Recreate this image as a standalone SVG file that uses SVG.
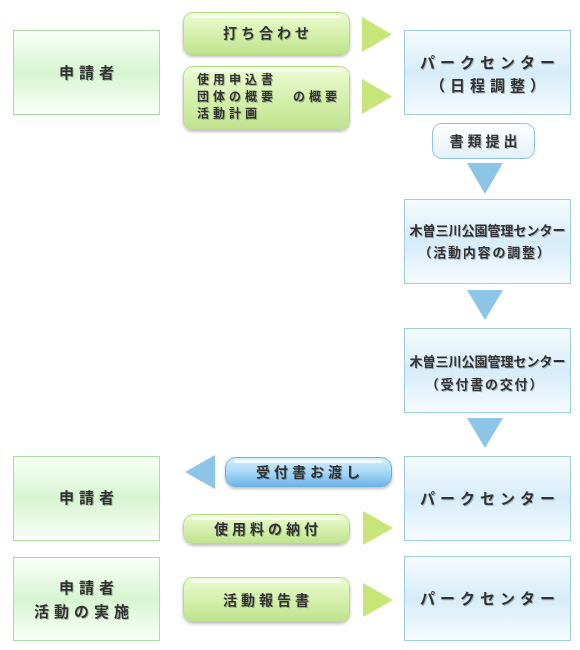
<svg xmlns="http://www.w3.org/2000/svg" width="580" height="650" viewBox="0 0 580 650">
<defs>
<linearGradient id="gBox" x1="0" y1="0" x2="0" y2="1">
<stop offset="0" stop-color="#fbfff9"/><stop offset="0.5" stop-color="#d6f5d0"/><stop offset="1" stop-color="#fbfff9"/>
</linearGradient>
<linearGradient id="bBox" x1="0" y1="0" x2="0" y2="1">
<stop offset="0" stop-color="#f6fbfe"/><stop offset="0.5" stop-color="#d6ecf8"/><stop offset="1" stop-color="#f6fbfe"/>
</linearGradient>
<linearGradient id="gPill" x1="0" y1="0" x2="0" y2="1">
<stop offset="0" stop-color="#eefad8"/><stop offset="0.15" stop-color="#e6f7c8"/><stop offset="0.6" stop-color="#d0eea6"/><stop offset="1" stop-color="#bfe28e"/>
</linearGradient>
<linearGradient id="bPill" x1="0" y1="0" x2="0" y2="1">
<stop offset="0" stop-color="#d8f0fc"/><stop offset="0.5" stop-color="#a8d8f6"/><stop offset="1" stop-color="#6cb4e8"/>
</linearGradient>
<linearGradient id="wPill" x1="0" y1="0" x2="0" y2="1">
<stop offset="0" stop-color="#ffffff"/><stop offset="1" stop-color="#e4f0fa"/>
</linearGradient>
<filter id="sh" x="-10%" y="-20%" width="120%" height="150%">
<feDropShadow dx="0" dy="2" stdDeviation="1.5" flood-color="#000" flood-opacity="0.25"/>
</filter>
<filter id="ts" x="-5%" y="-20%" width="110%" height="150%">
<feDropShadow dx="1" dy="1" stdDeviation="0.6" flood-color="#000" flood-opacity="0.25"/>
</filter>
</defs>
<style>
.gbox{fill:url(#gBox);stroke:#a9dea0;stroke-width:1}
.bbox{fill:url(#bBox);stroke:#9fcde0;stroke-width:1}
.gpill{fill:url(#gPill);stroke:#b4da84;stroke-width:1;filter:url(#sh)}
.bpill{fill:url(#bPill);stroke:#6aaede;stroke-width:1;filter:url(#sh)}
.wpill{fill:url(#wPill);stroke:#8cc0ea;stroke-width:1}
.hl{fill:#ffffff;opacity:0.7}
.gtri{fill:#c9e57a}
.btri{fill:#8dc5e6}
text{font-family:"Noto Sans CJK JP","Noto Sans",sans-serif;font-weight:bold;fill:#333;filter:url(#ts)}
.t15{font-size:15px;letter-spacing:5px;text-anchor:middle}
.t14{font-size:14px;letter-spacing:4px;text-anchor:middle}
.t13{font-size:13px;letter-spacing:0px;text-anchor:middle}
.t13b{font-size:13px;letter-spacing:1.8px;text-anchor:middle}
.t12l{font-size:12px;letter-spacing:4px}
</style>

<g id="connectors">
<polygon class="gtri" points="362,17 392,34.5 362,52"/>
<polygon class="gtri" points="362,79 392,96.5 362,114"/>
<polygon class="btri" points="467,163 503,163 485,194"/>
<polygon class="btri" points="467,290 503,290 485,320"/>
<polygon class="btri" points="467,418 503,418 485,448"/>
<polygon class="btri" points="215,455 215,489 185,472"/>
<polygon class="gtri" points="363,511 393,528 363,545"/>
<polygon class="gtri" points="363,583 393,600 363,617"/>
</g>

<g id="applicant1">
<rect class="gbox" x="13.5" y="30.5" width="146" height="84"/>
<text class="t15" x="89" y="78">申請者</text>
</g>
<g id="pill-uchiawase">
<rect class="gpill" x="183.5" y="12.5" width="166" height="42" rx="9"/>
<rect class="hl" x="192" y="15" width="148" height="3" rx="1.5"/>
<text class="t14" x="268" y="38">打ち合わせ</text>
</g>
<g id="pill-docs">
<rect class="gpill" x="183.5" y="66.5" width="166" height="63" rx="9"/>
<rect class="hl" x="192" y="69" width="148" height="3" rx="1.5"/>
<text class="t12l" x="197" y="84">使用申込書</text>
<text class="t12l" x="197" y="101">団体の概要　の概要</text>
<text class="t12l" x="197" y="118">活動計画</text>
</g>
<g id="park1">
<rect class="bbox" x="404.5" y="30.5" width="166" height="84"/>
<text class="t15" x="490" y="68">パークセンター</text>
<text class="t15" x="490" y="91">（日程調整）</text>
</g>
<g id="pill-shorui">
<rect class="wpill" x="432.5" y="123.5" width="102" height="35" rx="9"/>
<text class="t14" x="485.5" y="146">書類提出</text>
</g>
<g id="kiso1">
<rect class="bbox" x="404.5" y="199.5" width="166" height="84"/>
<text class="t13" x="487.5" y="235">木曽三川公園管理センター</text>
<text class="t13b" x="485" y="257">（活動内容の調整）</text>
</g>
<g id="kiso2">
<rect class="bbox" x="404.5" y="328.5" width="166" height="84"/>
<text class="t13" x="487.5" y="366">木曽三川公園管理センター</text>
<text class="t13b" x="485" y="389">（受付書の交付）</text>
</g>
<g id="applicant2">
<rect class="gbox" x="13.5" y="456.5" width="146" height="84"/>
<text class="t15" x="89" y="503">申請者</text>
</g>
<g id="pill-uketsuke">
<rect class="bpill" x="225.5" y="457.5" width="166" height="29" rx="10"/>
<rect class="hl" x="234" y="460" width="148" height="3" rx="1.5"/>
<text class="t14" x="310" y="477">受付書お渡し</text>
</g>
<g id="pill-ryokin">
<rect class="gpill" x="183.5" y="514.5" width="166" height="29" rx="10"/>
<rect class="hl" x="192" y="517" width="148" height="3" rx="1.5"/>
<text class="t14" x="268" y="534">使用料の納付</text>
</g>
<g id="park2">
<rect class="bbox" x="404.5" y="456.5" width="166" height="84"/>
<text class="t15" x="490" y="504">パークセンター</text>
</g>
<g id="applicant3">
<rect class="gbox" x="13.5" y="557.5" width="146" height="83"/>
<text class="t15" x="89" y="593">申請者</text>
<text class="t15" x="84" y="617">活動の実施</text>
</g>
<g id="pill-houkoku">
<rect class="gpill" x="183.5" y="577.5" width="166" height="44" rx="9"/>
<rect class="hl" x="192" y="580" width="148" height="3" rx="1.5"/>
<text class="t14" x="268" y="605">活動報告書</text>
</g>
<g id="park3">
<rect class="bbox" x="404.5" y="556.5" width="166" height="84"/>
<text class="t15" x="490" y="604">パークセンター</text>
</g>
</svg>
